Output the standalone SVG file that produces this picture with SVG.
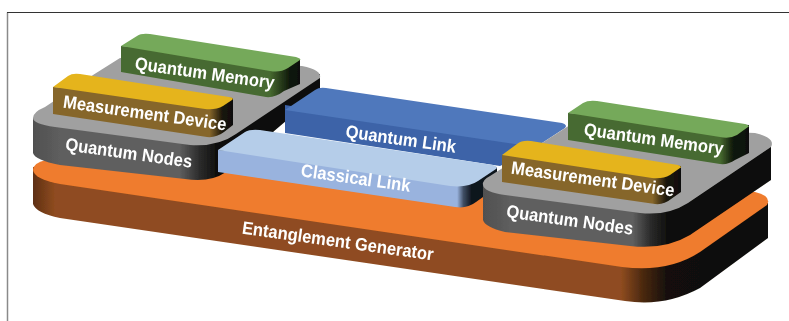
<svg xmlns="http://www.w3.org/2000/svg" width="789" height="321" viewBox="0 0 789 321">
<style>
text{font-family:"Liberation Sans",Arial,sans-serif;font-weight:700;fill:#fff;text-anchor:middle;font-size:18px}
</style>
<defs>
<filter id="soft" x="0" y="0" width="100%" height="100%"><feGaussianBlur stdDeviation="0.45"/></filter>
<linearGradient id="gOrange" gradientUnits="userSpaceOnUse" x1="33" y1="0" x2="768" y2="0">
<stop offset="0" stop-color="#5e2f12"/><stop offset=".03" stop-color="#8f4c20"/><stop offset=".8" stop-color="#8f4c20"/><stop offset=".83" stop-color="#4a280f"/><stop offset=".865" stop-color="#120e09"/><stop offset="1" stop-color="#0f0c08"/>
</linearGradient>
<linearGradient id="gNodeL" gradientUnits="userSpaceOnUse" x1="33" y1="0" x2="320" y2="0">
<stop offset="0" stop-color="#505050"/><stop offset=".1" stop-color="#5f5f5f"/><stop offset=".51" stop-color="#5f5f5f"/><stop offset=".58" stop-color="#2c2c2c"/><stop offset=".65" stop-color="#0a0a08"/><stop offset="1" stop-color="#0a0a08"/>
</linearGradient>
<linearGradient id="gNodeR" gradientUnits="userSpaceOnUse" x1="483" y1="0" x2="771" y2="0">
<stop offset="0" stop-color="#505050"/><stop offset=".1" stop-color="#5f5f5f"/><stop offset=".52" stop-color="#5f5f5f"/><stop offset=".58" stop-color="#2c2c2c"/><stop offset=".65" stop-color="#0a0a08"/><stop offset="1" stop-color="#0a0a08"/>
</linearGradient>
<linearGradient id="gMemL" gradientUnits="userSpaceOnUse" x1="121" y1="0" x2="300" y2="0">
<stop offset="0" stop-color="#476b30"/><stop offset=".83" stop-color="#476b30"/><stop offset=".94" stop-color="#111a0b"/><stop offset="1" stop-color="#0c0f08"/>
</linearGradient>
<linearGradient id="gMemR" gradientUnits="userSpaceOnUse" x1="568" y1="0" x2="749" y2="0">
<stop offset="0" stop-color="#476b30"/><stop offset=".84" stop-color="#476b30"/><stop offset=".91" stop-color="#111a0b"/><stop offset="1" stop-color="#0c0f08"/>
</linearGradient>
<linearGradient id="gMeasL" gradientUnits="userSpaceOnUse" x1="53" y1="0" x2="233" y2="0">
<stop offset="0" stop-color="#86662a"/><stop offset=".87" stop-color="#86662a"/><stop offset=".94" stop-color="#1a150a"/><stop offset="1" stop-color="#0f0e08"/>
</linearGradient>
<linearGradient id="gMeasR" gradientUnits="userSpaceOnUse" x1="502" y1="0" x2="681" y2="0">
<stop offset="0" stop-color="#86662a"/><stop offset=".84" stop-color="#86662a"/><stop offset=".92" stop-color="#1a150a"/><stop offset="1" stop-color="#0f0e08"/>
</linearGradient>
<linearGradient id="gClass" gradientUnits="userSpaceOnUse" x1="218" y1="0" x2="497" y2="0">
<stop offset="0" stop-color="#99b3de"/><stop offset=".857" stop-color="#99b3de"/><stop offset=".88" stop-color="#3f4d63"/><stop offset=".91" stop-color="#0e131b"/><stop offset="1" stop-color="#0e131b"/>
</linearGradient>
</defs>
<g id="frame" fill="none">
<path d="M7.5 321V12.5" stroke="#8a8a8a" stroke-width="1.5"/>
<path d="M7 12.5H789" stroke="#333" stroke-width="1.2"/>
</g>
<g filter="url(#soft)">
<g id="entanglement-generator">
<path d="M33 167V204Q36 213 60 218L625 301Q665 307 700 288L768 238V203Z" fill="url(#gOrange)"/>
<path d="M33 170Q33 163 46 160L755 192Q772 196 767 205L700 252Q668 273 622 267L60 184Q34 179 33 170Z" fill="#ef7b2d"/>
<text transform="translate(337 247) rotate(8) scale(.92 1)">Entanglement Generator</text>
</g>
<g id="quantum-nodes-left">
<path d="M33 118V153Q35 160 60 165L185 179Q210 183 226 172L320 92V74Z" fill="url(#gNodeL)"/>
<path d="M33 118Q33 112 45 107L93 75L120 58L302 66Q322 70 320 78L236 134Q218 147 190 145L55 127Q33 124 33 118Z" fill="#a0a0a0"/>
<text transform="translate(128 159) rotate(8) scale(.92 1)">Quantum Nodes</text>
</g>
<g id="quantum-memory-left">
<path d="M121 46V72L266 97Q275 98 284 91L300 84V59Z" fill="url(#gMemL)"/>
<path d="M121 46L137 36Q141 33 150 34L296 57Q302 59 300 60L288 68Q280 73 270 71Z" fill="#75a95a"/>
<text transform="translate(204 79) rotate(8) scale(.92 1)">Quantum Memory</text>
</g>
<g id="measurement-device-left">
<path d="M53 87V114L207 137Q216 138 224 132L233 125V98Z" fill="url(#gMeasL)"/>
<path d="M53 87L68 76Q72 73 80 74L229 97Q235 98 232 100L223 106Q216 110 205 109Z" fill="#e5b41c"/>
<text transform="translate(144 119) rotate(8) scale(.92 1)">Measurement Device</text>
</g>
<g id="quantum-link">
<path d="M285 110V133L500 166L545 145L285 105Z" fill="#3c64a8"/>
<path d="M285 110L315 90Q319 87 326 88L562 123Q568 125 565 128L542 143Q530 147 515 144Z" fill="#5078bc"/>
<text transform="translate(400 145) rotate(8) scale(.92 1)">Quantum Link</text>
</g>
<g id="classical-link">
<path d="M218 150V172L455 207Q467 209 476 202L497 187V167Z" fill="url(#gClass)"/>
<path d="M218 150L245 132Q250 129 260 130L493 165Q499 167 496 169L478 181Q468 188 450 186Z" fill="#b5cde9"/>
<text transform="translate(355 184) rotate(8) scale(.92 1)">Classical Link</text>
</g>
<g id="quantum-nodes-right">
<path d="M483 185V220Q485 227 505 232L630 246Q665 250 690 235L771 180V144Z" fill="url(#gNodeR)"/>
<path d="M483 185Q482 180 490 176L542 143L570 125L755 133Q776 138 771 147L688 203Q668 216 640 213L505 195Q484 192 483 185Z" fill="#a0a0a0"/>
<text transform="translate(569 226) rotate(8) scale(.92 1)">Quantum Nodes</text>
</g>
<g id="quantum-memory-right">
<path d="M568 113V140L720 164Q728 165 735 160L749 153V125Z" fill="url(#gMemR)"/>
<path d="M568 113L583 103Q588 100 597 101L745 124Q751 126 748 127L737 135Q730 139 720 137Z" fill="#75a95a"/>
<text transform="translate(653 145) rotate(8) scale(.92 1)">Quantum Memory</text>
</g>
<g id="measurement-device-right">
<path d="M502 155V182L655 204Q664 205 671 199L681 192V166Z" fill="url(#gMeasR)"/>
<path d="M502 155L517 144Q522 140 531 141L678 165Q683 167 680 168L670 175Q663 179 652 178Z" fill="#e5b41c"/>
<text transform="translate(592 185) rotate(8) scale(.92 1)">Measurement Device</text>
</g>
</g>
</svg>
